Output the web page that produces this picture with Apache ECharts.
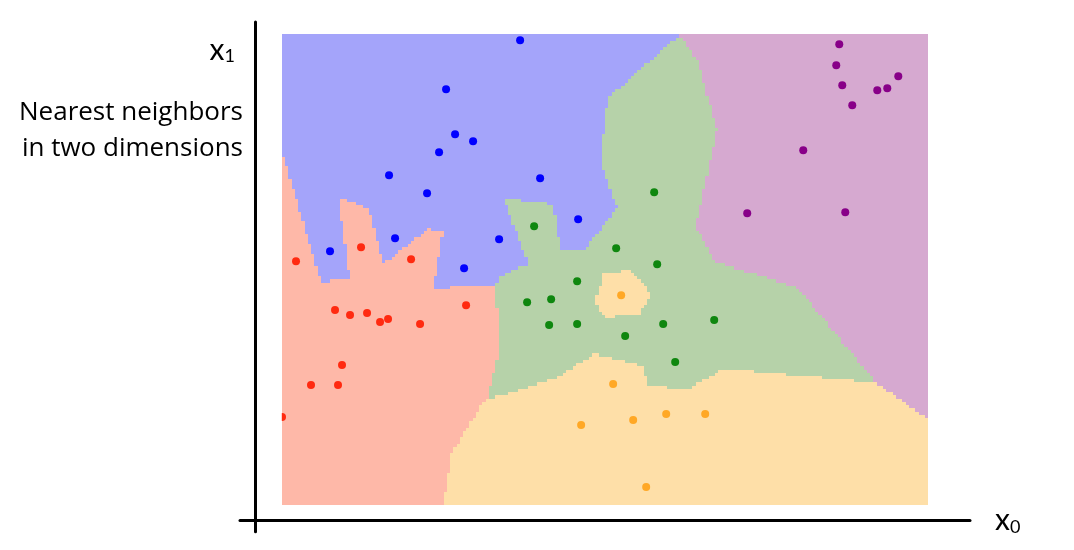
<!DOCTYPE html>
<html><head><meta charset="utf-8">
<script src="https://cdn.jsdelivr.net/npm/echarts@6/dist/echarts.min.js"></script>
<style>html,body{margin:0;padding:0;background:#fff}#c{width:1074px;height:550px}</style>
</head><body><div id="c"></div>
<script>
// ---- data (x0, x1) per class ----
const classNames = ['class 0', 'class 1', 'class 2', 'class 3', 'class 4'];
const bluePoints = [[1.64,4.16],[1.73,3.71],[1.91,3.64],[1.57,3.53],[1.07,3.30],[1.45,3.12],[1.13,2.67],[0.48,2.54],[2.17,2.66],[1.82,2.37],[2.38,4.65],[2.58,3.27],[2.96,2.86]];
const redPoints = [[0.14,2.44],[0.79,2.58],[1.29,2.46],[0.53,1.95],[0.68,1.90],[0.85,1.92],[0.98,1.83],[1.06,1.86],[1.38,1.81],[1.84,2.00],[0.60,1.40],[0.29,1.20],[0.56,1.20],[0.00,0.88]];
const greenPoints = [[2.52,2.79],[3.72,3.13],[3.34,2.57],[3.75,2.41],[2.95,2.24],[2.45,2.03],[2.69,2.06],[2.67,1.80],[2.95,1.81],[3.43,1.69],[3.81,1.81],[4.32,1.85],[3.93,1.43]];
const orangePoints = [[3.39,2.10],[3.31,1.21],[2.99,0.80],[3.51,0.85],[3.84,0.91],[4.23,0.91],[3.64,0.18]];
const purplePoints = [[5.57,4.61],[5.54,4.40],[5.60,4.20],[5.70,4.00],[5.95,4.15],[6.05,4.17],[6.16,4.29],[5.21,3.55],[4.65,2.92],[5.63,2.93]];
const xRange = [0, 6.46];
const yRange = [0, 4.71];

const classPoints = [bluePoints, redPoints, greenPoints, orangePoints, purplePoints];
const pointColors = ['#0000ff', '#ff2a10', '#0f870f', '#ffa826', '#880088'];
const regionColors = ['#a4a4fa', '#feb8a8', '#b6d2a9', '#fedfa8', '#d6a9d0'];

// ---- 1-nearest-neighbour decision regions on a grid (merged into row runs) ----
const allPts = [];
classPoints.forEach((pts, ci) => pts.forEach(p => allPts.push([p[0], p[1], ci])));
const nx = 200, ny = 146;
const dx = (xRange[1] - xRange[0]) / nx, dy = (yRange[1] - yRange[0]) / ny;
const runs = [];
for (let j = 0; j < ny; j++) {
  const y0 = yRange[0] + j * dy, y1 = y0 + dy, yc = y0 + dy / 2;
  let start = 0, cur = -1;
  for (let i = 0; i <= nx; i++) {
    let c = -1;
    if (i < nx) {
      const xc = xRange[0] + (i + 0.5) * dx;
      let best = Infinity;
      for (const p of allPts) {
        const d = (p[0] - xc) * (p[0] - xc) + (p[1] - yc) * (p[1] - yc);
        if (d < best) { best = d; c = p[2]; }
      }
    }
    if (c !== cur) {
      if (cur >= 0) runs.push([xRange[0] + start * dx, xRange[0] + i * dx, y0, y1, cur]);
      cur = c; start = i;
    }
  }
}

const FONT = 'Lato';
const subRich = {
  x: { fontFamily: FONT, fontSize: 30, lineHeight: 30, fontWeight: 'normal', color: '#000' },
  s: { fontFamily: FONT, fontSize: 18, lineHeight: 8, fontWeight: 'normal', verticalAlign: 'bottom', color: '#000' }
};

const chart = echarts.init(document.getElementById('c'), null, { renderer: 'canvas' });
const series = [{
  type: 'custom', xAxisIndex: 0, yAxisIndex: 0, silent: true, z: 1,
  encode: { x: [0, 1], y: [2, 3] },
  data: runs,
  renderItem: (params, api) => {
    const a = api.coord([api.value(0), api.value(3)]);
    const b = api.coord([api.value(1), api.value(2)]);
    const x = Math.round(a[0]), y = Math.round(a[1]);
    return { type: 'rect', shape: { x: x, y: y, width: Math.round(b[0]) - x, height: Math.round(b[1]) - y },
             style: { fill: regionColors[api.value(4)] } };
  }
}];
classPoints.forEach((pts, ci) => series.push({
  type: 'scatter', name: classNames[ci], xAxisIndex: 0, yAxisIndex: 0, z: 3,
  data: pts, symbolSize: 8, itemStyle: { color: pointColors[ci], opacity: 1 }
}));

chart.setOption({
  animation: false,
  backgroundColor: '#fff',
  title: [
    { text: '{x|x}{s|1}', right: 839, top: 35, padding: 0, textStyle: { fontWeight: 'normal', rich: subRich } },
    { text: 'Nearest neighbors\nin two dimensions', left: 243, top: 95, padding: 0, textAlign: 'right',
      textStyle: { fontFamily: 'Open Sans', fontSize: 26, lineHeight: 36, fontWeight: 'normal', color: '#000' } }
  ],
  grid: [
    { left: 282, right: 145.7, top: 34.3, bottom: 45, outerBoundsMode: 'none' },
    { left: 240, right: 104, top: 22, bottom: 29.3, outerBoundsMode: 'none' },
    { left: 255.7, width: 100, top: 22, bottom: 18.3, outerBoundsMode: 'none' }
  ],
  xAxis: [
    { gridIndex: 0, type: 'value', min: xRange[0], max: xRange[1], show: false },
    { gridIndex: 1, type: 'value', min: 0, max: 1, position: 'bottom',
      axisLine: { show: true, onZero: false, lineStyle: { color: '#000', width: 3 } },
      axisTick: { show: false }, axisLabel: { show: false }, splitLine: { show: false },
      name: '{x|x}{s|0}', nameLocation: 'end', nameGap: 25, nameTextStyle: { rich: subRich } },
    { gridIndex: 2, type: 'value', show: false }
  ],
  yAxis: [
    { gridIndex: 0, type: 'value', min: yRange[0], max: yRange[1], show: false },
    { gridIndex: 1, type: 'value', show: false },
    { gridIndex: 2, type: 'value', min: 0, max: 1, position: 'left',
      axisLine: { show: true, onZero: false, lineStyle: { color: '#000', width: 3 } },
      axisTick: { show: false }, axisLabel: { show: false }, splitLine: { show: false } }
  ],
  graphic: [
    { type: 'rect', z: 100, silent: true, shape: { x: 258, y: 30, width: 23.8, height: 480 }, style: { fill: '#fff' } }
  ],
  series: series
});
</script></body></html>
